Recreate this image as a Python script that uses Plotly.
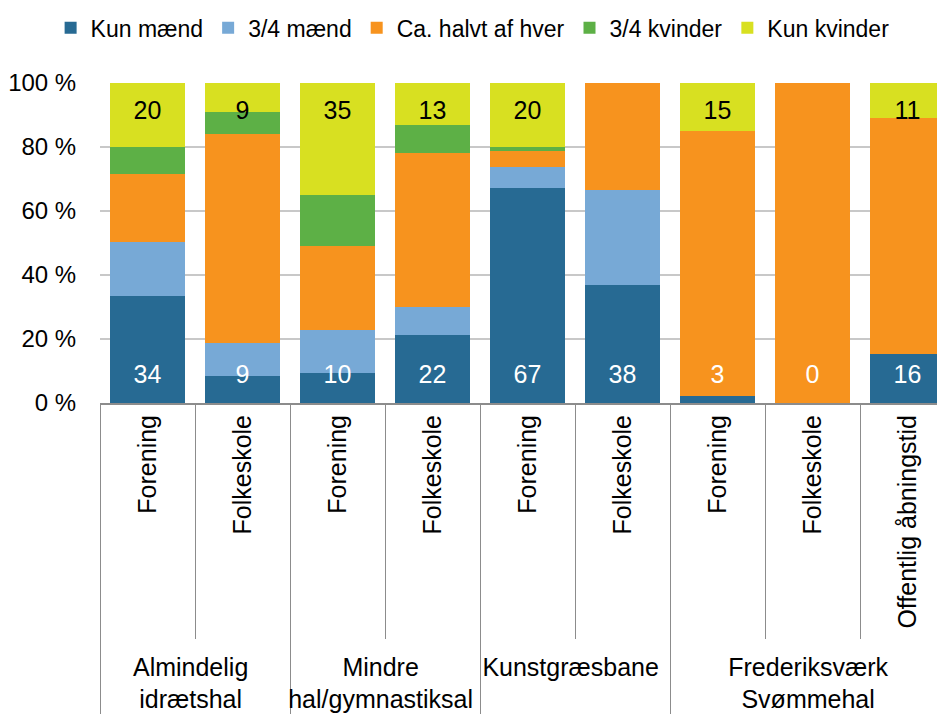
import plotly.graph_objects as go

outer = ["Almindelig<br>idrætshal"] * 2 + ["Mindre<br>hal/gymnastiksal"] * 2 + ["Kunstgræsbane"] * 2 + ["Frederiksværk<br>Svømmehal"] * 3
inner = ["Forening", "Folkeskole"] * 4 + ["Offentlig åbningstid"]

kun_maend = [33.4, 8.3, 9.5, 21.25, 67.1, 37.0, 2.3, 0, 15.4]
tre_kvart_maend = [17.0, 10.4, 13.3, 8.75, 6.7, 29.5, 0, 0, 0]
halvt = [21.3, 65.3, 26.3, 48.1, 4.8, 33.5, 82.6, 100, 73.6]
tre_kvart_kvinder = [8.4, 7.0, 15.9, 8.7, 1.5, 0, 0, 0, 0]
kun_kvinder = [19.9, 9.0, 35.0, 13.2, 19.9, 0, 15.1, 0, 11.0]

bottom_labels = ["34", "9", "10", "22", "67", "38", "3", "0", "16"]
top_labels = ["20", "9", "35", "13", "20", "", "15", "", "11"]

series = [
    ("Kun mænd", kun_maend, "#276A93"),
    ("3/4 mænd", tre_kvart_maend, "#77A9D6"),
    ("Ca. halvt af hver", halvt, "#F7931E"),
    ("3/4 kvinder", tre_kvart_kvinder, "#5DB046"),
    ("Kun kvinder", kun_kvinder, "#D8E021"),
]

FONT = "Liberation Sans, Arial, sans-serif"

fig = go.Figure()
for name, vals, col in series:
    fig.add_trace(go.Bar(x=[outer, inner], y=vals, name=name, marker=dict(color=col, line=dict(width=0))))

fig.add_trace(go.Scatter(x=[outer, inner], y=[8.3] * 9, text=bottom_labels, mode="text",
                         textfont=dict(color="white", size=25, family=FONT), showlegend=False, hoverinfo="skip"))
fig.add_trace(go.Scatter(x=[outer, inner], y=[90.8] * 9, text=top_labels, mode="text",
                         textfont=dict(color="black", size=25, family=FONT), showlegend=False, hoverinfo="skip"))

fig.update_layout(
    barmode="stack",
    bargap=0.21,
    width=947,
    height=709,
    margin=dict(l=92, r=0, t=75, b=314, autoexpand=False),
    plot_bgcolor="white",
    paper_bgcolor="white",
    font=dict(family=FONT, size=23, color="black"),
    legend=dict(orientation="h", traceorder="normal", x=0.045, xref="container", xanchor="left",
                y=0.972, yref="container", yanchor="middle", font=dict(size=23), itemwidth=30,
                tracegroupgap=0),
    xaxis=dict(type="multicategory", automargin=False, showline=True, linecolor="#8C8C8C", linewidth=2,
               ticks="outside", tickson="boundaries", ticklen=234, tickcolor="#8C8C8C", tickwidth=1,
               tickangle=-90, showdividers=True, dividercolor="#8C8C8C", dividerwidth=1,
               tickfont=dict(size=25, family=FONT)),
    yaxis=dict(range=[0, 100], dtick=20, ticksuffix=" %", automargin=False, showgrid=True,
               gridcolor="#C8C8C8", gridwidth=2, zeroline=False, ticks="outside", ticklen=18,
               tickcolor="rgba(0,0,0,0)", tickfont=dict(size=24, family=FONT)),
)

fig.write_html("out.html")
